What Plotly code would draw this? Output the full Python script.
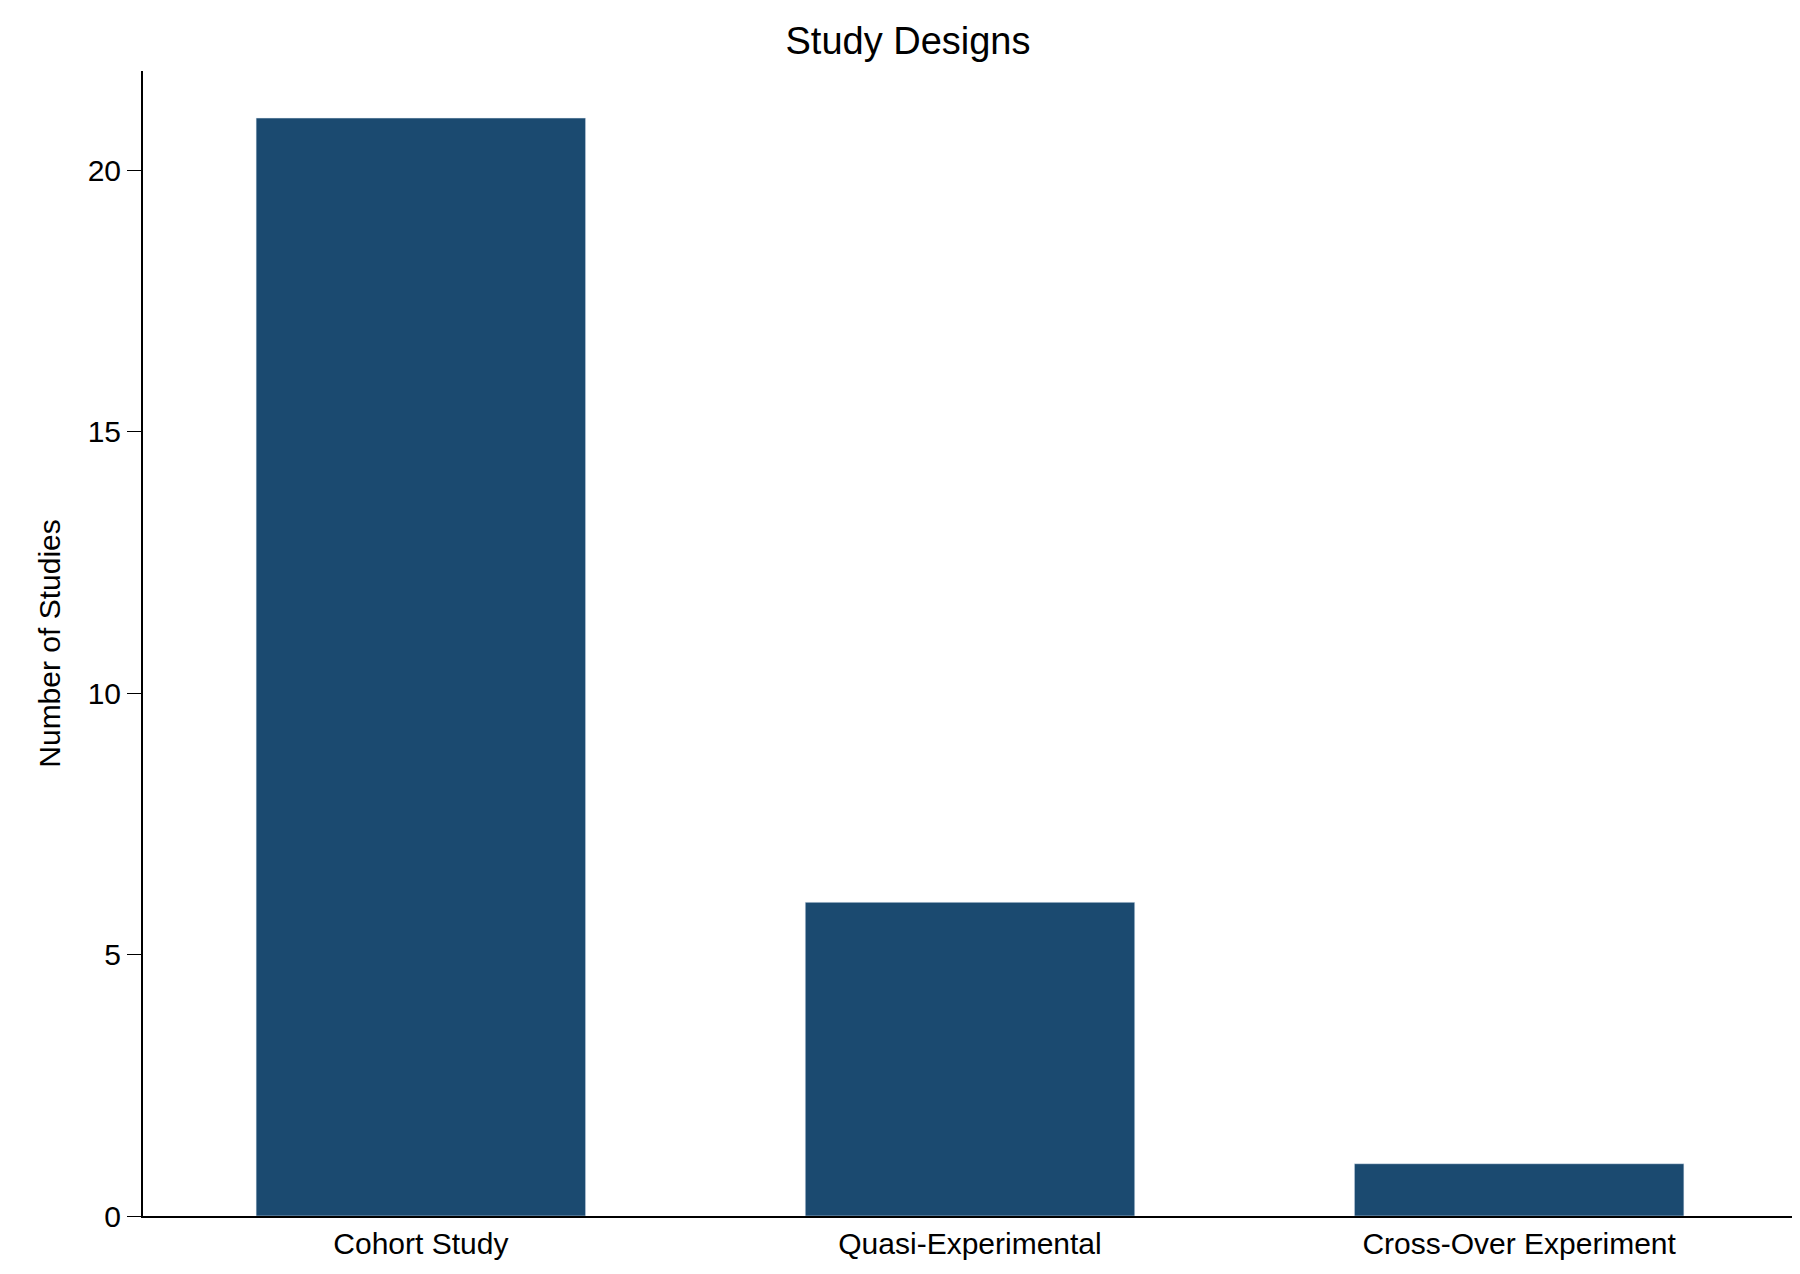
import plotly.graph_objects as go

categories = ["Cohort Study", "Quasi-Experimental", "Cross-Over Experiment"]
n_studies = [21, 6, 1]

fig = go.Figure(go.Bar(x=categories, y=n_studies, marker_color="#1b4a70", width=0.6))

fig.update_layout(
    width=1800, height=1274,
    plot_bgcolor="white", paper_bgcolor="white",
    font=dict(family="Liberation Sans, Arial", size=30, color="black"),
    title=dict(text="Study Designs", x=0.5, xanchor="center", y=0.985, yanchor="top",
               font=dict(size=38)),
    margin=dict(l=135, r=11, t=63, b=66),
    showlegend=False,
)
fig.update_xaxes(range=[-0.506, 2.506], showline=True, linecolor="black", linewidth=2,
                 ticks="", tickfont=dict(size=30))
fig.update_yaxes(range=[0, 21.9], tickvals=[0, 5, 10, 15, 20], showline=True,
                 linecolor="black", linewidth=2, ticks="outside", ticklen=14,
                 tickcolor="black", showgrid=False, zeroline=False,
                 title=dict(text="Number of Studies", font=dict(size=30), standoff=18))

fig.write_html("out.html")
